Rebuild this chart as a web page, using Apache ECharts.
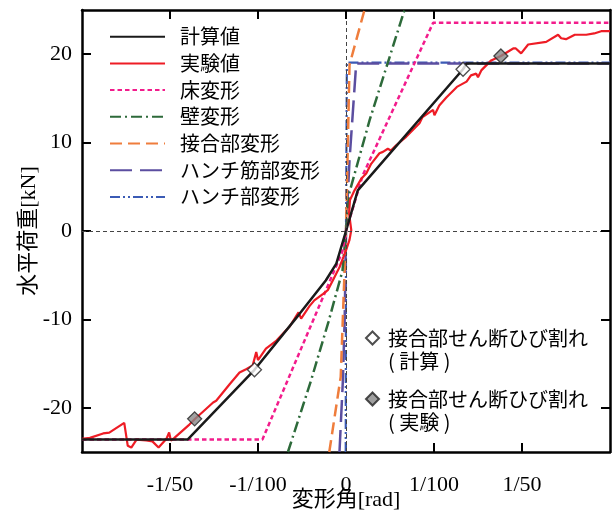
<!DOCTYPE html>
<html>
<head>
<meta charset="utf-8">
<script src="https://cdn.jsdelivr.net/npm/echarts@6/dist/echarts.min.js"></script>
<style>html,body{margin:0;padding:0;background:#fff}#c{width:613px;height:510px}</style>
</head>
<body>
<div id="c"></div>
<script>
// x values in 1/1000 rad, y values in kN
const xRange = [-30, 30];
const yRange = [-25, 25];
const xTickValues = [-20, -10, 0, 10, 20];
const xTickLabels = ['-1/50', '-1/100', '0', '1/100', '1/50'];
const yTickValues = [-20, -10, 0, 10, 20];

const calc = [[-30,-23.6],[-18.0,-23.6],[-10.4,-15.7],[-5.3,-9.4],[-2.3,-5.6],[-1.1,-3.7],[0,0],[1.34,4.6],[13.3,18.3],[13.7,18.95],[30,18.95]];
const exper = [[-30.0,-23.5],[-29.1,-23.4],[-27.6,-22.9],[-26.9,-22.8],[-25.2,-21.7],[-24.8,-24.3],[-24.4,-24.5],[-23.8,-23.6],[-22.7,-23.7],[-22.0,-23.8],[-21.3,-24.5],[-20.4,-23.5],[-20.1,-22.8],[-19.9,-23.7],[-19.5,-23.4],[-17.8,-21.9],[-17.2,-21.3],[-15.1,-19.4],[-14.75,-19.2],[-13.2,-17.3],[-12.1,-16.0],[-11.3,-15.6],[-10.6,-15.2],[-10.2,-13.7],[-10.0,-14.6],[-9.1,-13.3],[-7.9,-12.4],[-6.4,-10.8],[-5.4,-9.2],[-5.1,-9.9],[-4.15,-8.5],[-3.6,-7.85],[-2.6,-7.1],[-2.07,-6.7],[-1.5,-5.6],[-1.1,-4.8],[-0.74,-4.1],[0.0,-2.2],[0.4,-1.0],[0.6,0.1],[0.35,2.0],[0.45,3.5],[0.97,4.6],[1.73,5.9],[2.3,6.5],[2.86,7.6],[3.8,8.8],[4.2,8.95],[4.75,9.3],[5.1,9.1],[5.7,9.7],[6.84,10.65],[8.35,12.2],[8.7,12.9],[9.9,13.7],[10.05,13.1],[10.6,14.2],[11.4,15.1],[12.6,16.3],[13.7,16.9],[14.2,17.6],[14.8,17.8],[15.0,17.4],[15.4,18.2],[16.5,19.3],[17.6,19.8],[19.0,20.65],[19.3,20.65],[19.9,20.1],[20.7,21.1],[22.75,21.4],[24.1,22.2],[24.45,21.8],[25.0,21.7],[26.0,22.2],[27.3,22.2],[28.2,22.35],[29.0,22.6],[30.0,22.6]];
const floorDef = [[-30,-23.6],[-9.5,-23.6],[-0.4,-2.3],[0,0],[1.9,6.3],[9.9,23.55],[30,23.55]];
const wallDef = [[-6.6,-25],[-4.0,-17],[-2.0,-10.3],[-0.4,-4.5],[0,0],[0.4,4.4],[2.7,12.6],[6.65,25]];
const jointDef = [[-1.9,-25],[-0.6,-16.5],[0,0],[0.4,18.8],[2.1,25]];
const haunchBarDef = [[-0.74,-25],[-0.36,-17],[-0.15,-10],[0,0],[0.4,8],[1.16,18.95],[30,18.95]];
const haunchDef = [[-0.03,-25],[0,0],[0.1,19.05],[30,19.05]];
const crackCalc = [[13.3,18.3],[-10.4,-15.7]];
const crackExp = [[17.6,19.8],[-17.2,-21.25]];

const names = ['計算値','実験値','床変形','壁変形','接合部変形','ハンチ筋部変形','ハンチ部変形'];
const crackNames = ['接合部せん断ひび割れ（計算）','接合部せん断ひび割れ（実験）'];
const crackLines = [['接合部せん断ひび割れ', '( 計算 )'], ['接合部せん断ひび割れ', '( 実験 )']];

const serif = "'Liberation Serif','Noto Sans CJK JP'";
const cjk = "'Noto Sans CJK JP'";

function lineSeries(name, data, color, width, type, z) {
  return { name, type: 'line', data, symbol: 'none', z, animation: false,
    lineStyle: { color, width, type }, itemStyle: { color } };
}

function tick() {
  return { show: true, inside: true, length: 9, lineStyle: { color: '#000', width: 2 } };
}
function line() {
  return { show: true, onZero: false, lineStyle: { color: '#000', width: 2.5 } };
}

// mirrored inward ticks on the top and right frame, at the tick values (about 9 px long)
const tickLenX = (xRange[1] - xRange[0]) * 9 / 528;
const tickLenY = (yRange[1] - yRange[0]) * 9 / 442;
const mirrorTicks = []
  .concat(xTickValues.map(v => [{ xAxis: v, yAxis: yRange[1] }, { xAxis: v, yAxis: yRange[1] - tickLenY }]))
  .concat(yTickValues.map(v => [{ xAxis: xRange[1], yAxis: v }, { xAxis: xRange[1] - tickLenX, yAxis: v }]));

const calcSeries = lineSeries(names[0], calc, '#1a1a1a', 2.5, 'solid', 4);
calcSeries.markLine = { silent: true, symbol: ['none', 'none'], animation: false, label: { show: false },
  emphasis: { disabled: true },
  lineStyle: { color: '#000', width: 2, type: 'solid' },
  data: mirrorTicks };

const chart = echarts.init(document.getElementById('c'), null, { renderer: 'canvas' });
chart.setOption({
  animation: false,
  grid: { left: 82, right: 3, top: 10, bottom: 58, containLabel: false, outerBoundsMode: 'none' },
  xAxis: [
    { type: 'value', min: xRange[0], max: xRange[1], position: 'bottom', splitLine: { show: false },
      axisLine: line(),
      axisTick: Object.assign(tick(), { customValues: xTickValues }),
      axisLabel: { customValues: xTickValues, margin: 22, color: '#000', fontSize: 22, fontFamily: serif,
        formatter: v => { const i = xTickValues.indexOf(Math.round(v)); return i >= 0 ? xTickLabels[i] : ''; } },
      name: '変形角[rad]', nameLocation: 'middle', nameGap: 37, nameMoveOverlap: false,
      nameTextStyle: { color: '#000', fontSize: 22, fontFamily: serif } },
    { type: 'value', min: xRange[0], max: xRange[1], position: 'top', splitLine: { show: false },
      axisLine: line(), axisTick: { show: false }, axisLabel: { show: false } }
  ],
  yAxis: [
    { type: 'value', min: yRange[0], max: yRange[1], position: 'left', splitLine: { show: false },
      axisLine: line(),
      axisTick: Object.assign(tick(), { customValues: yTickValues }),
      axisLabel: { customValues: yTickValues, margin: 10, color: '#000', fontSize: 22, fontFamily: serif },
      name: '水平荷重[kN]', nameLocation: 'middle', nameGap: 42, nameMoveOverlap: false,
      nameTextStyle: { color: '#000', fontSize: 22, fontFamily: serif } },
    { type: 'value', min: yRange[0], max: yRange[1], position: 'right', splitLine: { show: false },
      axisLine: line(), axisTick: { show: false }, axisLabel: { show: false } }
  ],
  legend: [
    { data: names, orient: 'vertical', left: 109, top: 26.7, padding: 0,
      itemWidth: 55, itemHeight: 14, itemGap: 6.7, selectedMode: false,
      itemStyle: { opacity: 0 },
      textStyle: { color: '#000', fontSize: 20, lineHeight: 20, fontFamily: cjk, padding: [0, 0, 0, 10] } },
    { data: [crackNames[0]], orient: 'vertical', left: 365, top: 303.5, padding: 0,
      icon: 'diamond', itemWidth: 13, itemHeight: 13, selectedMode: false,
      formatter: () => ' \n' + crackLines[0].join('\n'),
      textStyle: { color: '#000', fontSize: 20, lineHeight: 23, fontFamily: cjk, padding: [0, 0, 0, 4] } },
    { data: [crackNames[1]], orient: 'vertical', left: 365, top: 364.5, padding: 0,
      icon: 'diamond', itemWidth: 13, itemHeight: 13, selectedMode: false,
      formatter: () => ' \n' + crackLines[1].join('\n'),
      textStyle: { color: '#000', fontSize: 20, lineHeight: 23, fontFamily: cjk, padding: [0, 0, 0, 4] } }
  ],
  series: [
    { name: 'zero', type: 'line', data: [], z: 1, silent: true,
      markLine: { silent: true, symbol: 'none', animation: false, label: { show: false },
        lineStyle: { color: '#444', width: 1, type: [4, 3] },
        data: [{ yAxis: 0 }, { xAxis: 0 }] } },
    lineSeries(names[6], haunchDef, '#3b5bb5', 2.2, [10, 3, 2, 3, 2, 3], 2),
    lineSeries(names[5], haunchBarDef, '#5b4ea0', 2.5, [22, 8], 2),
    lineSeries(names[4], jointDef, '#ef7d3c', 2.5, [12, 6], 2),
    lineSeries(names[3], wallDef, '#2d6a3a', 2.5, [11, 4, 2, 4], 2),
    lineSeries(names[2], floorDef, '#f21c8c', 2.5, [4.5, 3], 2),
    lineSeries(names[1], exper, '#ee1c25', 2.2, 'solid', 3),
    calcSeries,
    { name: crackNames[0], type: 'scatter', data: crackCalc, symbol: 'diamond', symbolSize: 14, z: 5,
      itemStyle: { color: '#fff', borderColor: '#222', borderWidth: 1.3 } },
    { name: crackNames[1], type: 'scatter', data: crackExp, symbol: 'diamond', symbolSize: 14, z: 5,
      itemStyle: { color: '#888', borderColor: '#222', borderWidth: 1.3 } }
  ]
});
</script>
</body>
</html>
